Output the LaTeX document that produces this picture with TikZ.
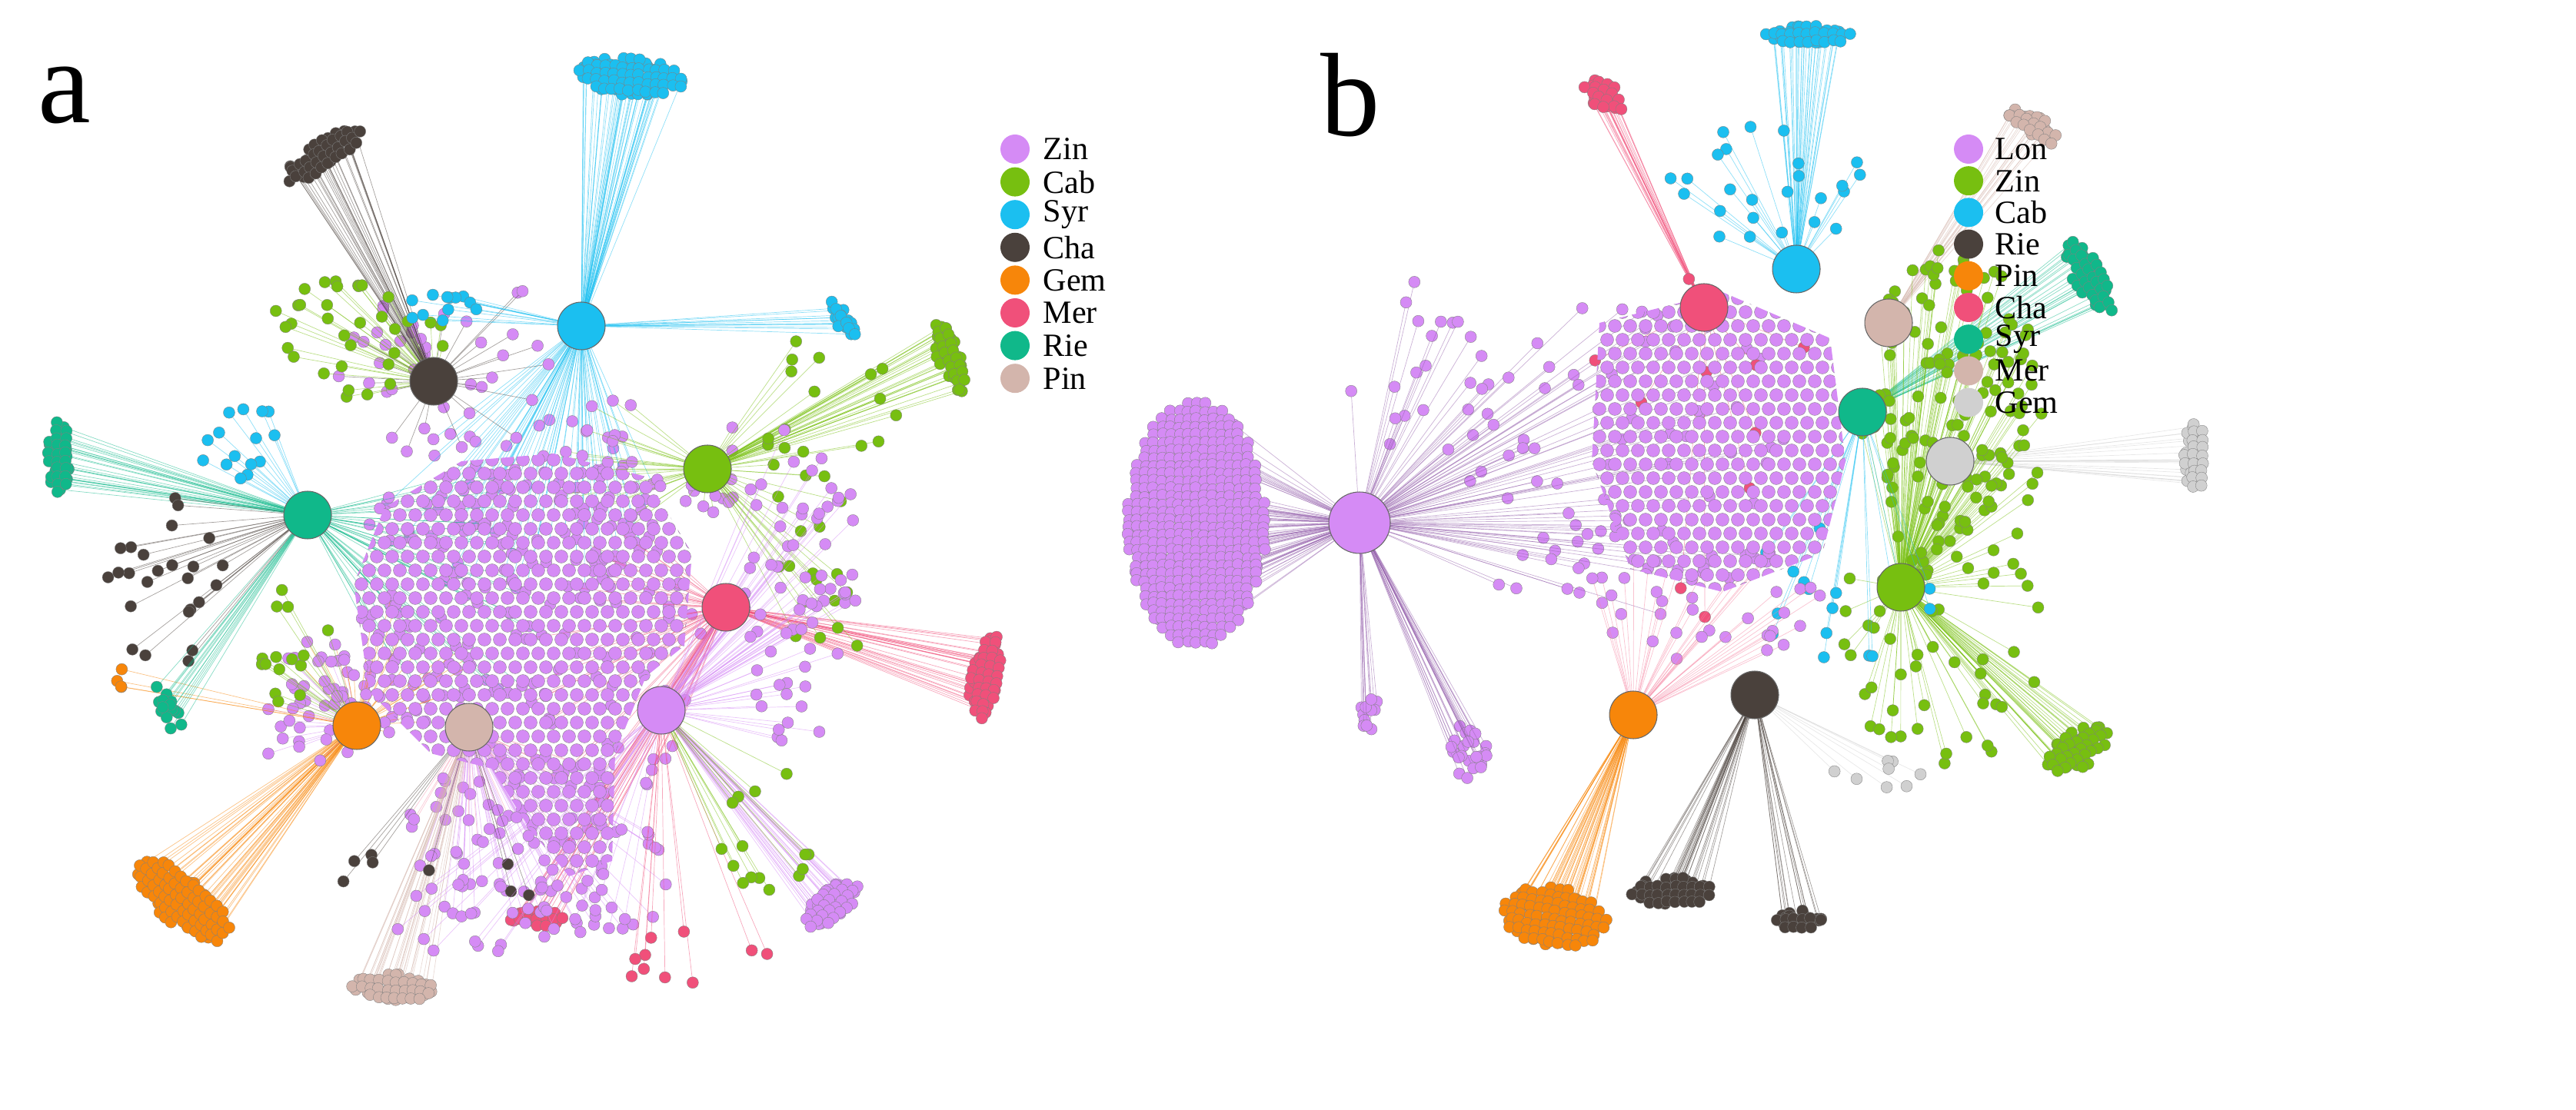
\documentclass[tikz,border=0pt]{standalone}
\usepackage{fontspec}
\setmainfont{Liberation Serif}
\definecolor{cvi}{HTML}{D58BF5}
\definecolor{cgr}{HTML}{77BF10}
\definecolor{ccy}{HTML}{1BBFF0}
\definecolor{cdk}{HTML}{4A413C}
\definecolor{cor}{HTML}{F7860A}
\definecolor{cpk}{HTML}{F0507A}
\definecolor{ctl}{HTML}{10B88A}
\definecolor{ctn}{HTML}{D3B5AC}
\definecolor{cgy}{HTML}{D0D0D0}
\tikzset{
 hub/.style={circle,draw=black!60,line width=0.3pt,fill=#1,minimum size=0.62cm,inner sep=0pt},
 bighub/.style={circle,draw=black!60,line width=0.3pt,fill=#1,minimum size=0.8cm,inner sep=0pt},
 leg/.style={circle,fill=#1,minimum size=0.38cm,inner sep=0pt},
 legtxt/.style={anchor=west,font=\fontsize{12}{13}\selectfont,inner sep=0pt},
 panel/.style={font=\fontsize{44}{48}\selectfont,inner sep=0pt},
 dot/.style={fill=#1,draw=black!50,line width=0.1pt}
}
% #1 hub, #2 cx, #3 cy, #4 rx, #5 ry, #6 rot, #7 n, #8 dot colour ; line colour in \lc
\newcommand\spray[8]{%
 \foreach \i in {1,...,#7}{%
  \pgfmathsetmacro\aa{rnd*360}\pgfmathsetmacro\rr{sqrt(rnd)}%
  \pgfmathsetmacro\px{#2+#4*\rr*cos(\aa)*cos(#6)-#5*\rr*sin(\aa)*sin(#6)}%
  \pgfmathsetmacro\py{#3+#4*\rr*cos(\aa)*sin(#6)+#5*\rr*sin(\aa)*cos(#6)}%
  \draw[\lc,line width=0.2pt,opacity=0.5] (#1) -- (\px,\py);
  \fill[dot=#8] (\px,\py) circle[radius=0.075cm];
 }}
% dense blob: cx cy rx ry rot colour
\newcommand\blob[6]{%
 \pgfmathsetmacro\xa{-#3}\pgfmathsetmacro\xb{-#3+5.5}
 \pgfmathsetmacro\ya{-#4}\pgfmathsetmacro\yb{-#4+5}
 \foreach \vv in {\ya,\yb,...,#4}{\foreach \uu in {\xa,\xb,...,#3}{
  \pgfmathparse{(\uu/#3)^2+(\vv/#4)^2<=1.05 ? 1 : 0}%
  \ifnum\pgfmathresult=1
   \pgfmathsetmacro\px{#1+\uu*cos(#5)-\vv*sin(#5)+rnd*1.5}%
   \pgfmathsetmacro\py{#2+\uu*sin(#5)+\vv*cos(#5)+rnd*1.5}%
   \fill[dot=#6] (\px,\py) circle[radius=0.075cm];
  \fi}}}
\begin{document}
\begin{tikzpicture}[x=0.02cm,y=-0.02cm]
\useasboundingbox (0,0) rectangle (1675,722);
\pgfmathsetseed{7}
% ---------------- panel a hubs coordinates
\coordinate (aSyr) at (378,212);
\coordinate (aCha) at (282,248);
\coordinate (aCab) at (460,305);
\coordinate (aRie) at (200,335);
\coordinate (aMer) at (472,395);
\coordinate (aZin) at (430,462);
\coordinate (aPin) at (305,473);
\coordinate (aGem) at (232,472);
% fans to centre
\def\lc{ccy}\spray{aSyr}{340}{330}{90}{60}{0}{70}{cvi}
\def\lc{ctl}\spray{aRie}{300}{380}{70}{80}{0}{50}{cvi}
\def\lc{cpk}\spray{aMer}{400}{430}{60}{90}{0}{60}{cvi}
\def\lc{cgr}\spray{aCab}{420}{300}{70}{50}{0}{40}{cvi}
\def\lc{cpk!60}\spray{aPin}{330}{520}{70}{40}{0}{40}{cvi}
\def\lc{cor}\spray{aGem}{250}{430}{60}{50}{0}{35}{cvi}
\def\lc{cdk}\spray{aCha}{300}{240}{80}{60}{0}{40}{cvi}
% outer clusters
\def\lc{ccy}\spray{aSyr}{410}{50}{34}{12}{5}{50}{ccy}
\def\lc{cdk}\spray{aCha}{210}{100}{28}{9}{-35}{30}{cdk}
\def\lc{ctl}\spray{aRie}{38}{298}{7}{24}{0}{30}{ctl}
\def\lc{cor}\spray{aGem}{118}{585}{16}{36}{-50}{45}{cor}
\def\lc{ctn}\spray{aPin}{255}{642}{26}{9}{5}{35}{ctn}
\def\lc{cvi}\spray{aZin}{540}{588}{9}{21}{50}{30}{cvi}
\def\lc{cpk}\spray{aMer}{640}{440}{9}{28}{10}{35}{cpk}
\def\lc{cpk}\spray{aMer}{350}{597}{18}{5}{0}{20}{cpk}
\def\lc{cgr}\spray{aCab}{617}{232}{7}{24}{-20}{30}{cgr}
\def\lc{ccy}\spray{aSyr}{548}{208}{5}{14}{-35}{12}{ccy}
\blob{410}{50}{34}{12}{5}{ccy}
\blob{210}{100}{28}{9}{-35}{cdk}
\blob{38}{298}{7}{24}{0}{ctl}
\blob{118}{585}{16}{36}{-50}{cor}
\blob{255}{642}{26}{9}{5}{ctn}
\blob{540}{588}{9}{21}{50}{cvi}
\blob{640}{440}{9}{28}{10}{cpk}
\blob{350}{597}{18}{5}{0}{cpk}
\blob{617}{232}{7}{24}{-20}{cgr}
\blob{548}{208}{5}{14}{-35}{ccy}
% scattered
\def\lc{cdk}\spray{aRie}{110}{380}{40}{60}{0}{25}{cdk}
\def\lc{ccy}\spray{aRie}{160}{290}{30}{30}{0}{15}{ccy}
\def\lc{cgr}\spray{aCha}{230}{220}{60}{40}{0}{35}{cgr}
\def\lc{ccy}\spray{aSyr}{290}{200}{30}{10}{0}{12}{ccy}
\def\lc{cgr}\spray{aCab}{540}{320}{50}{110}{0}{35}{cgr}
\def\lc{cvi}\spray{aZin}{520}{380}{40}{110}{0}{70}{cvi}
\def\lc{cvi}\spray{aPin}{360}{570}{90}{40}{0}{60}{cvi}
\def\lc{cvi}\spray{aGem}{200}{460}{40}{40}{0}{35}{cvi}
\def\lc{cgr}\spray{aGem}{190}{420}{30}{40}{0}{15}{cgr}
\def\lc{cpk}\spray{aZin}{440}{620}{60}{20}{0}{10}{cpk}
\def\lc{cdk}\spray{aPin}{290}{570}{80}{20}{0}{8}{cdk}
\def\lc{cgr}\spray{aZin}{500}{540}{50}{40}{0}{15}{cgr}
\def\lc{cvi}\spray{aZin}{330}{600}{90}{30}{0}{25}{cvi}
\def\lc{cor}\spray{aGem}{78}{440}{3}{8}{0}{4}{cor}
\def\lc{ctl}\spray{aRie}{110}{460}{6}{18}{-20}{15}{ctl}
% central mass a
\begin{scope}
\clip (250,330)--(300,300)--(360,295)--(420,310)--(450,360)--(445,420)--(420,440)--(400,490)--(398,560)--(370,570)--(345,540)--(320,500)--(280,490)--(240,450)--(230,380)--cycle;
\foreach \yy in {290,299,...,580}{\foreach \xx in {225,235,...,460}{
 \pgfmathsetmacro\ox{mod(\yy,2)*5}
 \fill[dot=cvi] (\xx+\ox,\yy) circle[radius=0.085cm];}}
\end{scope}
\node[hub=ccy] (Syr) at (aSyr) {};
\node[hub=cdk] (Cha) at (aCha) {};
\node[hub=cgr] (Cab) at (aCab) {};
\node[hub=ctl] (Rie) at (aRie) {};
\node[hub=cpk] (Mer) at (aMer) {};
\node[hub=cvi] (Zin) at (aZin) {};
\node[hub=ctn] (Pin) at (aPin) {};
\node[hub=cor] (Gem) at (aGem) {};
\node[panel] (la) at (42,62) {a};
% legend a
\foreach \c/\t [count=\k from 0] in {cvi/Zin,cgr/Cab,ccy/Syr,cdk/Cha,cor/Gem,cpk/Mer,ctl/Rie,ctn/Pin}{
 \node[leg=\c] (la\k) at (660,97+21.3*\k) {};
 \node[legtxt] (ta\k) at (678,97+21.3*\k) {\t};}
% ---------------- panel b
\coordinate (bLon) at (884,340);
\coordinate (bCab) at (1168,175);
\coordinate (bCha) at (1108,200);
\coordinate (bMer) at (1228,210);
\coordinate (bSyr) at (1211,268);
\coordinate (bGem) at (1268,300);
\coordinate (bZin) at (1236,382);
\coordinate (bRie) at (1141,452);
\coordinate (bPin) at (1062,465);
\def\lc{cvi!70!black}\spray{bLon}{777}{340}{44}{78}{0}{90}{cvi}
\blob{777}{340}{44}{78}{0}{cvi}
\def\lc{cvi!70!black}\spray{bLon}{1050}{300}{120}{110}{0}{80}{cvi}
\def\lc{cvi!70!black}\spray{bLon}{930}{235}{60}{60}{0}{20}{cvi}
\def\lc{cvi!70!black}\spray{bLon}{955}{490}{14}{20}{0}{25}{cvi}
\def\lc{cvi!70!black}\spray{bLon}{890}{465}{8}{12}{0}{12}{cvi}
\def\lc{ccy}\spray{bCab}{1175}{22}{28}{6}{0}{35}{ccy}
\blob{1175}{22}{28}{6}{0}{ccy}
\def\lc{ccy}\spray{bCab}{1160}{120}{80}{40}{0}{25}{ccy}
\def\lc{cpk}\spray{bCha}{1043}{62}{14}{8}{30}{20}{cpk}
\blob{1043}{62}{14}{8}{30}{cpk}
\def\lc{ctn}\spray{bMer}{1322}{82}{18}{7}{30}{20}{ctn}
\blob{1322}{82}{18}{7}{30}{ctn}
\def\lc{ctl}\spray{bSyr}{1358}{180}{9}{25}{-30}{25}{ctl}
\blob{1358}{180}{9}{25}{-30}{ctl}
\def\lc{cgy}\spray{bGem}{1427}{297}{7}{22}{0}{20}{cgy}
\blob{1427}{297}{7}{22}{0}{cgy}
\def\lc{cgr}\spray{bZin}{1350}{487}{11}{22}{60}{30}{cgr}
\blob{1350}{487}{11}{22}{60}{cgr}
\def\lc{cgr}\spray{bZin}{1270}{270}{60}{110}{0}{150}{cgr}
\def\lc{cgr}\spray{bZin}{1260}{420}{70}{80}{0}{50}{cgr}
\def\lc{cor}\spray{bPin}{1010}{596}{33}{19}{10}{50}{cor}
\blob{1010}{596}{33}{19}{10}{cor}
\def\lc{cdk}\spray{bRie}{1088}{580}{27}{9}{0}{30}{cdk}
\blob{1088}{580}{27}{9}{0}{cdk}
\def\lc{cdk}\spray{bRie}{1170}{598}{15}{6}{0}{15}{cdk}
\blob{1170}{598}{15}{6}{0}{cdk}
\def\lc{ccy}\spray{bSyr}{1200}{380}{60}{60}{0}{18}{ccy}
\def\lc{cgy}\spray{bRie}{1220}{500}{30}{20}{0}{8}{cgy}
\def\lc{cpk}\spray{bCha}{1120}{280}{100}{130}{0}{10}{cpk}
\def\lc{cpk!70}\spray{bPin}{1110}{390}{80}{40}{0}{40}{cvi}
\begin{scope}
\clip (1040,210)--(1120,190)--(1190,220)--(1200,300)--(1185,360)--(1120,385)--(1060,370)--(1035,300)--cycle;
\foreach \yy in {185,194,...,390}{\foreach \xx in {1030,1040,...,1205}{
 \pgfmathsetmacro\ox{mod(\yy,2)*5}
 \fill[dot=cvi] (\xx+\ox,\yy) circle[radius=0.085cm];}}
\end{scope}
\node[bighub=cvi] (Lon) at (bLon) {};
\node[hub=ccy] (bCabN) at (bCab) {};
\node[hub=cpk] (bChaN) at (bCha) {};
\node[hub=ctn] (bMerN) at (bMer) {};
\node[hub=ctl] (bSyrN) at (bSyr) {};
\node[hub=cgy] (bGemN) at (bGem) {};
\node[hub=cgr] (bZinN) at (bZin) {};
\node[hub=cdk] (bRieN) at (bRie) {};
\node[hub=cor] (bPinN) at (bPin) {};
\node[panel] (lb) at (878,62) {b};
\foreach \c/\t [count=\k from 0] in {cvi/Lon,cgr/Zin,ccy/Cab,cdk/Rie,cor/Pin,cpk/Cha,ctl/Syr,ctn/Mer,cgy/Gem}{
 \node[leg=\c] (lb\k) at (1280,97+20.6*\k) {};
 \node[legtxt] (tb\k) at (1297,97+20.6*\k) {\t};}
\end{tikzpicture}
\end{document}
